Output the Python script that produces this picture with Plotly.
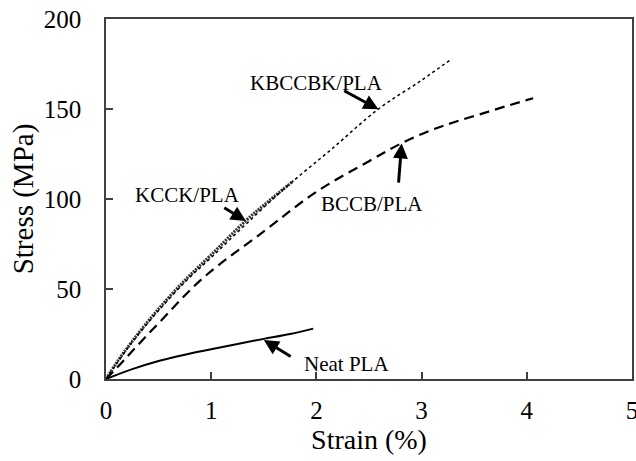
import plotly.graph_objects as go

# Data
strain_neat = [0, 0.25, 0.5, 0.75, 1.0, 1.25, 1.5, 1.75, 1.97]
stress_neat = [0, 5.5, 10, 13.5, 16.5, 19.5, 22.3, 25, 28]

strain_kcck = [0, 0.1, 0.25, 0.5, 0.77, 1.0, 1.33, 1.55, 1.78]
stress_kcck = [0, 9, 21, 39, 56, 69, 88, 99, 110]

strain_kbccbk = [0, 0.1, 0.25, 0.5, 0.77, 1.0, 1.33, 1.7, 2.13, 2.59, 3.0, 3.29]
stress_kbccbk = [0, 8.5, 20.5, 38, 55, 67.5, 86, 106, 127, 150, 166, 178]

strain_bccb = [0, 0.1, 0.25, 0.5, 0.92, 1.5, 2.0, 2.5, 2.81, 3.08, 3.3, 3.55, 3.8, 4.06]
stress_bccb = [0, 6, 15.5, 31, 56, 82, 104, 121, 131, 138, 142.5, 147, 151.5, 156]

x_ticks = [0, 1, 2, 3, 4, 5]
y_ticks = [0, 50, 100, 150, 200]

labels = ["Neat PLA", "KCCK/PLA", "KBCCBK/PLA", "BCCB/PLA"]
label_pos = [(2.29, 8.5), (0.77, 102.5), (2.0, 164.5), (2.53, 97.5)]
arrow_head = [(1.50, 21.7), (1.33, 87.8), (2.59, 149.8), (2.81, 130.9)]
arrow_tail = [(1.77, 12.0), (1.11, 95.7), (2.25, 160.6), (2.78, 108.3)]

FONT = "Liberation Serif"

fig = go.Figure()
fig.add_trace(go.Scatter(x=strain_kcck, y=stress_kcck, mode="lines", name=labels[1],
                         line=dict(color="#333333", width=3, dash="2px,1px", shape="spline")))
fig.add_trace(go.Scatter(x=strain_kbccbk, y=stress_kbccbk, mode="lines", name=labels[2],
                         line=dict(color="black", width=1.5, dash="dot", shape="spline")))
fig.add_trace(go.Scatter(x=strain_bccb, y=stress_bccb, mode="lines", name=labels[3],
                         line=dict(color="black", width=2.2, dash="10px,6px", shape="spline")))
fig.add_trace(go.Scatter(x=strain_neat, y=stress_neat, mode="lines", name=labels[0],
                         line=dict(color="black", width=2, shape="spline")))

annotations = []
for lab, (tx, ty) in zip(labels, label_pos):
    annotations.append(dict(x=tx, y=ty, xref="x", yref="y", text=lab, showarrow=False,
                            font=dict(family=FONT, size=21, color="black")))
for (hx, hy), (tx, ty) in zip(arrow_head, arrow_tail):
    annotations.append(dict(x=hx, y=hy, xref="x", yref="y", ax=tx, ay=ty, axref="x", ayref="y",
                            text="", showarrow=True, arrowhead=2, arrowsize=1, arrowwidth=3,
                            arrowcolor="black", standoff=0, startstandoff=0))

fig.update_layout(
    width=636, height=461,
    margin=dict(l=106, r=4, t=19, b=82),
    paper_bgcolor="white", plot_bgcolor="white",
    showlegend=False,
    font=dict(family=FONT, size=25, color="black"),
    annotations=annotations,
)
fig.update_xaxes(range=[0, 5], tickvals=x_ticks, ticks="inside", ticklen=7, tickwidth=1.5,
                 tickcolor="#404040", showline=True, linecolor="#404040", linewidth=1.5,
                 mirror=True, showgrid=False, zeroline=False, ticklabelstandoff=8,
                 automargin=False, ticklabeloverflow="allow",
                 title=dict(text="Strain (%)", standoff=4, font=dict(size=28)))
fig.update_yaxes(range=[0, 200], tickvals=y_ticks, ticks="inside", ticklen=7, tickwidth=1.5,
                 tickcolor="#404040", showline=True, linecolor="#404040", linewidth=1.5,
                 mirror=True, showgrid=False, zeroline=False, ticklabelstandoff=18,
                 automargin=False, ticklabeloverflow="allow",
                 title=dict(text="Stress (MPa)", standoff=2, font=dict(size=29)))

fig.write_html("out.html", config={"displayModeBar": False},
               post_script="document.body.style.margin='0';")
